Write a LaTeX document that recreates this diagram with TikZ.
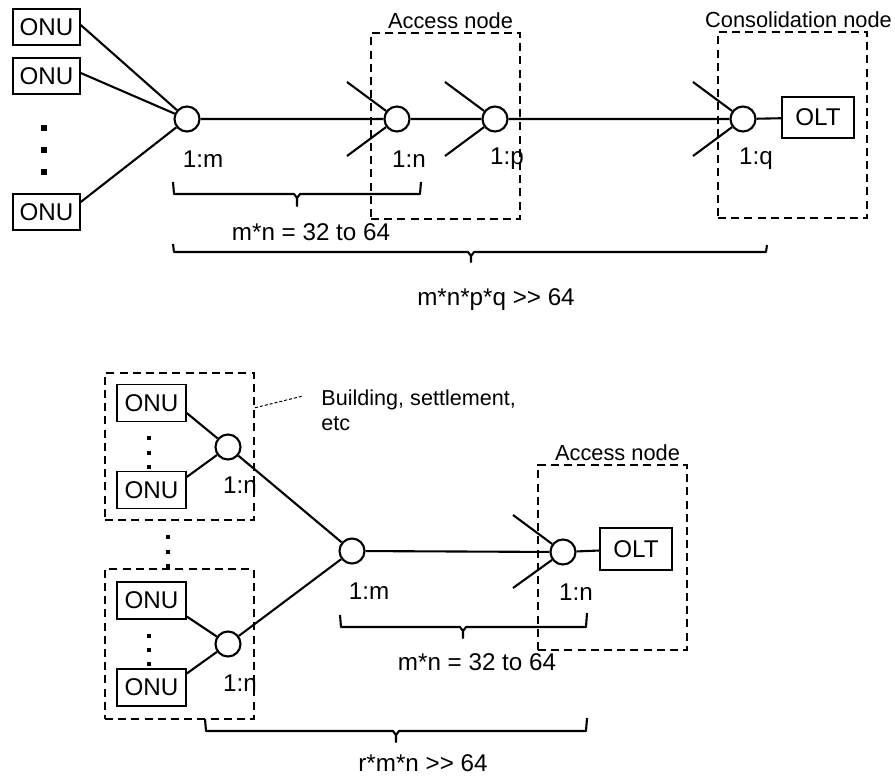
\documentclass[tikz,border=0pt]{standalone}
\usepackage{fontspec}
\setmainfont{Liberation Sans}
\usetikzlibrary{calc, positioning}

\begin{document}
\begin{tikzpicture}[
    x=0.5pt, y=-0.5pt,
    every node/.style={font=\fontsize{12.1}{14}\selectfont},
    unit/.style={rectangle, draw, line width=0.75pt, minimum width=33.5pt, minimum height=18pt, inner sep=0pt},
    split/.style={circle, draw, line width=1.05pt, fill=white, minimum size=12.5pt, inner sep=0pt},
    site/.style={rectangle, draw, dash pattern=on 4pt off 2.6pt, line width=1.05pt, inner sep=0pt, minimum width=74.5pt},
    sitename/.style={inner sep=0pt, font=\fontsize{10.9}{12}\selectfont},
    ratio/.style={inner sep=0pt},
    fibre/.style={line width=1.05pt},
    brace/.style={line width=1.05pt, line join=round},
    dotsq/.style={rectangle, fill, inner sep=0pt, minimum size=3.2pt},
    dotsm/.style={rectangle, fill, inner sep=0pt, minimum size=1.9pt},
]
    \useasboundingbox (0,0) rectangle (895,776);

    % upper chain: m, n, p, q
    \node[site, minimum height=93pt] (acc1) at (445.5,126) {};
    \node[sitename, above=1.5pt of acc1.north, xshift=2.5pt] (acc1lbl) {Access node};
    \node[site, minimum height=93pt] (cons) at (792.5,125) {};
    \node[sitename, above=1.5pt of cons.north, xshift=3pt] (conslbl) {Consolidation node};

    \node[unit] (onu1) at (46.5,27) {ONU};
    \node[unit] (onu2) at (46.5,76) {ONU};
    \node[unit] (onu3) at (46.5,212) {ONU};
    \foreach \y in {128,150,172} \node[dotsq] at (44,\y) {};

    \node[split] (sp1) at (187,119) {};
    \node[split] (sp2) at (397,119) {};
    \node[split] (sp3) at (495,119) {};
    \node[split] (sp4) at (743,119) {};
    \node[unit, minimum width=36pt, minimum height=20.5pt] (olt1) at (818,117.5) {OLT};

    \draw[fibre] ([yshift=1pt]onu1.east) -- (sp1);
    \draw[fibre] ([yshift=1.5pt]onu2.east) -- (sp1);
    \draw[fibre] ([yshift=5pt]onu3.east) -- (sp1);
    \draw[fibre] (sp1) -- (sp2) -- (sp3) -- (sp4) -- (olt1);
    \foreach \s in {sp2,sp3,sp4}
        \draw[fibre] (\s) -- ++(-50,-37) (\s) -- ++(-50,37);

    \node[ratio] (r1) at ($(sp1)+(16,40)$) {1:m};
    \node[ratio] (r2) at ($(sp2)+(12,40)$) {1:n};
    \node[ratio] (r3) at ($(sp3)+(12,40)$) {1:p};
    \node[ratio] (r4) at ($(sp4)+(13,40)$) {1:q};

    \draw[brace] (173,182) -- (174,194) -- (294,194) -- (297,198) -- (297,206) -- (297,198) -- (300,194) -- (420,194) -- (421,182);
    \node (sum1) at (311,232) {m*n = 32 to 64};
    \draw[brace] (173,244) -- (174,252) -- (468,252) -- (471,256) -- (471,262) -- (471,256) -- (474,252) -- (766,252) -- (767,245);
    \node (sum2) at (496,300) {m*n*p*q >\kern0pt> 64};

    % lower tree: n, m, n
    \node[site, minimum height=73.5pt] (bldA) at (179.5,446.5) {};
    \node[site, minimum height=75pt] (bldB) at (179.5,644) {};
    \node[site, minimum height=92.5pt] (acc2) at (612.5,557.5) {};
    \node[sitename, above=1.5pt of acc2.north, xshift=2.5pt] (acc2lbl) {Access node};

    \coordinate (bldtip) at (303,396);
    \draw[line width=0.5pt, dash pattern=on 1.5pt off 1pt] ($(bldA.north east)!0.24!(bldA.south east)$) -- (bldtip);
    \node[sitename, anchor=west, align=left, font=\fontsize{10.8}{12.5}\selectfont] (bldlbl) at (321,410) {Building, settlement,\\etc};

    \node[unit, minimum width=34.5pt, minimum height=18.5pt] (onuA1) at (151.5,403) {ONU};
    \node[unit, minimum width=34.5pt, minimum height=18.5pt] (onuA2) at (151.5,490) {ONU};
    \node[unit, minimum width=34.5pt, minimum height=18.5pt] (onuB1) at (151.5,600.5) {ONU};
    \node[unit, minimum width=34.5pt, minimum height=18.5pt] (onuB2) at (151.5,687.5) {ONU};
    \foreach \y in {438,453,467,636,650,664} \node[dotsm] at (149,\y) {};
    \foreach \y in {537,552,566} \node[dotsm] at (168,\y) {};

    \node[split] (spA) at (228,447) {};
    \node[split] (spB) at (228,644) {};
    \node[split] (spm) at (352,551) {};
    \node[split] (spn) at (563,552) {};
    \node[unit, minimum width=36pt, minimum height=21pt] (olt2) at (636,549) {OLT};

    \draw[fibre] ([yshift=-5pt]onuA1.east) -- (spA);
    \draw[fibre] ([yshift=6.5pt]onuA2.east) -- (spA);
    \draw[fibre] ([yshift=-8pt]onuB1.east) -- (spB);
    \draw[fibre] ([yshift=7pt]onuB2.east) -- (spB);
    \draw[fibre] (spA) -- (spm);
    \draw[fibre] (spB) -- (spm);
    \draw[fibre] (spm) -- (spn) -- (olt2);
    \draw[fibre] (spn) -- ++(-50,-37) (spn) -- ++(-50,36);

    \node[ratio] (rA) at ($(spA)+(12,38)$) {1:n};
    \node[ratio] (rB) at ($(spB)+(12,39)$) {1:n};
    \node[ratio] (rm) at ($(spm)+(17,40)$) {1:m};
    \node[ratio] (rn) at ($(spn)+(13,40)$) {1:n};

    \draw[brace] (340,615) -- (341,627) -- (460,627) -- (463,631) -- (463,638) -- (463,631) -- (466,627) -- (586,627) -- (587,613);
    \node (sum3) at (477,662) {m*n = 32 to 64};
    \draw[brace] (205,719) -- (206,731) -- (393,731) -- (396,735) -- (396,742) -- (396,735) -- (399,731) -- (586,731) -- (587,718);
    \node (sum4) at (423,763) {r*m*n >\kern0pt> 64};
\end{tikzpicture}
\end{document}
